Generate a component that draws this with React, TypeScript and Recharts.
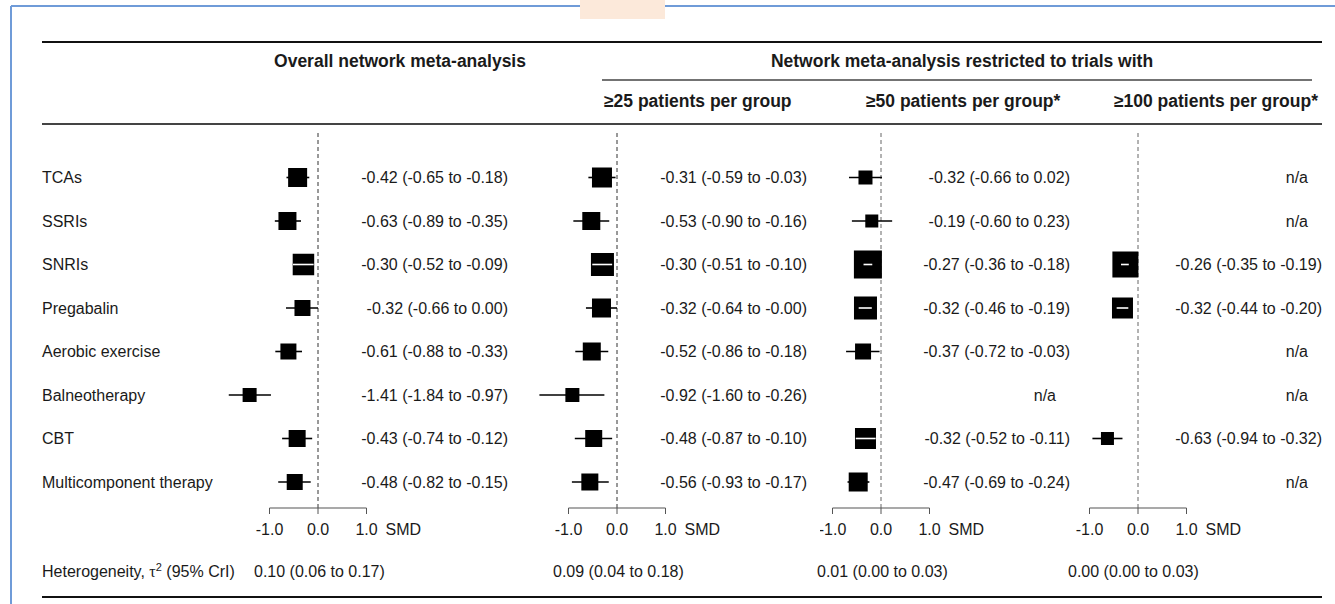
import React from "react";
import { ScatterChart, Scatter, XAxis, YAxis, ReferenceLine, ErrorBar } from "recharts";

// rows, top to bottom
const treatments = [
  "TCAs",
  "SSRIs",
  "SNRIs",
  "Pregabalin",
  "Aerobic exercise",
  "Balneotherapy",
  "CBT",
  "Multicomponent therapy",
];

// overall network meta-analysis (SMD, 95% CrI, box weight)
const overallSmd = [-0.42, -0.63, -0.3, -0.32, -0.61, -1.41, -0.43, -0.48];
const overallLow = [-0.65, -0.89, -0.52, -0.66, -0.88, -1.84, -0.74, -0.82];
const overallHigh = [-0.18, -0.35, -0.09, 0.0, -0.33, -0.97, -0.12, -0.15];
const overallWeight = [19, 18, 21.5, 16, 16, 14, 17, 16];

// trials with >=25 patients per group
const n25Smd = [-0.31, -0.53, -0.3, -0.32, -0.52, -0.92, -0.48, -0.56];
const n25Low = [-0.59, -0.9, -0.51, -0.64, -0.86, -1.6, -0.87, -0.93];
const n25High = [-0.03, -0.16, -0.1, -0, -0.18, -0.26, -0.1, -0.17];
const n25Weight = [20, 18, 23, 19, 18, 14, 17, 17];

// trials with >=50 patients per group (null = n/a)
const n50Smd = [-0.32, -0.19, -0.27, -0.32, -0.37, null, -0.32, -0.47];
const n50Low = [-0.66, -0.6, -0.36, -0.46, -0.72, null, -0.52, -0.69];
const n50High = [0.02, 0.23, -0.18, -0.19, -0.03, null, -0.11, -0.24];
const n50Weight = [14, 13, 28, 23, 16, null, 21, 19];

// trials with >=100 patients per group
const n100Smd = [null, null, -0.26, -0.32, null, null, -0.63, null];
const n100Low = [null, null, -0.35, -0.44, null, null, -0.94, null];
const n100High = [null, null, -0.19, -0.2, null, null, -0.32, null];
const n100Weight = [null, null, 26, 21, null, null, 13, null];

const panelTitles = [
  "≥25 patients per group",
  "≥50 patients per group*",
  "≥100 patients per group*",
];
const tau2 = ["0.10 (0.06 to 0.17)", "0.09 (0.04 to 0.18)", "0.01 (0.00 to 0.03)", "0.00 (0.00 to 0.03)"];
const axisTicks = [-1, 0, 1];

const panelData = [
  { smd: overallSmd, low: overallLow, high: overallHigh, weight: overallWeight },
  { smd: n25Smd, low: n25Low, high: n25High, weight: n25Weight },
  { smd: n50Smd, low: n50Low, high: n50High, weight: n50Weight },
  { smd: n100Smd, low: n100Low, high: n100High, weight: n100Weight },
];

// layout
const W = 1335;
const H = 604;
const PX = 48.5; // px per SMD unit
const ROW0 = 177.5;
const ROW_GAP = 43.5;
const PLOT_TOP = 130;
const AXIS_Y = 508;
const Y_MIN = -(ROW0 - PLOT_TOP) / ROW_GAP;
const Y_MAX = (AXIS_Y - ROW0) / ROW_GAP;
const FONT = "'Liberation Sans', Arial, Helvetica, sans-serif";
const INK = "#1a1a1a";

const frames = [
  { zero: 318, left: 0, plotL: 220, textEnd: 508, tauX: 254, dash: "#333" },
  { zero: 617, left: 520, plotL: 525, textEnd: 807, tauX: 553, dash: "#333" },
  { zero: 881, left: 820, plotL: 825, textEnd: 1070, tauX: 817, dash: "#666" },
  { zero: 1138, left: 1075, plotL: 1080, textEnd: 1322, tauX: 1068, dash: "#666" },
];

const fmt = (v: number) => (Object.is(v, -0) ? "-" : "") + v.toFixed(2);

const Box = (props: any) => {
  const { cx, cy, payload } = props;
  const s = payload.weight;
  return <rect x={cx - s / 2} y={cy - s / 2} width={s} height={s} fill="#000" />;
};
const Empty = () => <g />;

const AxisTick = (props: any) => {
  const { x, y, payload } = props;
  return (
    <g>
      <text x={x} y={y + 19} textAnchor="middle" fontFamily={FONT} fontSize={16} fill={INK}>
        {payload.value.toFixed(1)}
      </text>
      {payload.value === 1 && (
        <text x={x + 19} y={y + 19} textAnchor="start" fontFamily={FONT} fontSize={16} fill={INK}>
          SMD
        </text>
      )}
    </g>
  );
};

function Panel({ idx }: { idx: number }) {
  const f = frames[idx];
  const d = panelData[idx];
  const plotR = f.zero + 55;
  const right = f.textEnd + 6;
  const rows = treatments.map((_, i) => i);
  const pts = rows
    .filter((i) => d.smd[i] != null)
    .map((i) => ({
      row: i,
      smd: d.smd[i] as number,
      low: d.low[i] as number,
      high: d.high[i] as number,
      ci: [(d.smd[i] as number) - (d.low[i] as number), (d.high[i] as number) - (d.smd[i] as number)],
      weight: d.weight[i] as number,
    }));
  // CI fully hidden inside the box -> drawn as a white line on top
  const inner = pts.filter((p) => p.ci[0] * PX <= p.weight / 2 && p.ci[1] * PX <= p.weight / 2);
  const xDomain = [(f.plotL - f.zero) / PX, (plotR - f.zero) / PX];
  const showLabels = idx === 0;

  const estTick = (p: any) => {
    const i = p.payload.value;
    const v = d.smd[i];
    const txt = v == null ? "n/a" : `${fmt(v)} (${fmt(d.low[i] as number)} to ${fmt(d.high[i] as number)})`;
    return (
      <text
        x={f.textEnd - f.left - (v == null ? 14 : 0)}
        y={p.y}
        dy={5.5}
        textAnchor="end"
        fontFamily={FONT}
        fontSize={16}
        fill={INK}
      >
        {txt}
      </text>
    );
  };
  const labelTick = (p: any) => (
    <text x={42} y={p.y} dy={5.5} textAnchor="start" fontFamily={FONT} fontSize={16} fill={INK}>
      {treatments[p.payload.value]}
    </text>
  );

  return (
    <div style={{ position: "absolute", left: f.left, top: 0 }}>
      <ScatterChart
        width={right - f.left}
        height={H}
        margin={{ top: PLOT_TOP, right: 0, bottom: 0, left: showLabels ? 0 : f.plotL - f.left }}
      >
        <XAxis
          type="number"
          dataKey="smd"
          domain={xDomain}
          allowDataOverflow
          ticks={axisTicks}
          interval={0}
          axisLine={false}
          tickLine={{ stroke: "#555" }}
          tickSize={6}
          height={H - AXIS_Y}
          tick={AxisTick}
        />
        {showLabels && (
          <YAxis
            yAxisId="l"
            orientation="left"
            type="number"
            dataKey="row"
            width={f.plotL - f.left}
            domain={[Y_MIN, Y_MAX]}
            reversed
            allowDataOverflow
            ticks={rows}
            interval={0}
            axisLine={false}
            tickLine={false}
            tick={labelTick}
          />
        )}
        <YAxis
          yAxisId="r"
          orientation="right"
          type="number"
          dataKey="row"
          width={right - plotR}
          domain={[Y_MIN, Y_MAX]}
          reversed
          allowDataOverflow
          ticks={rows}
          interval={0}
          axisLine={false}
          tickLine={false}
          tick={estTick}
        />
        <ReferenceLine yAxisId="r" x={0} stroke={f.dash} strokeDasharray="4 3" strokeWidth={1} />
        <ReferenceLine
          yAxisId="r"
          segment={[
            { x: -1, y: Y_MAX },
            { x: 1, y: Y_MAX },
          ]}
          stroke="#555"
          strokeWidth={1.2}
          ifOverflow="visible"
        />
        <Scatter yAxisId="r" data={pts} shape={Box} isAnimationActive={false}>
          <ErrorBar dataKey="ci" direction="x" width={0} stroke="#000" strokeWidth={1.6} isAnimationActive={false} />
        </Scatter>
        {inner.map((p) => (
          <Scatter
            key={`w${p.row}`}
            yAxisId="r"
            data={[
              { smd: p.low, row: p.row },
              { smd: p.high, row: p.row },
            ]}
            shape={Empty}
            line={{ stroke: "#fff", strokeWidth: 1.6 }}
            isAnimationActive={false}
          />
        ))}
      </ScatterChart>
    </div>
  );
}

export default function App() {
  const hdr = { fontFamily: FONT, fontSize: 17.5, fontWeight: 700, fill: INK } as const;
  const body = { fontFamily: FONT, fontSize: 16, fill: INK } as const;
  return (
    <div style={{ position: "absolute", left: 0, top: 0, width: W, height: H, background: "#fff", overflow: "hidden" }}>
      {frames.map((_, i) => (
        <Panel key={i} idx={i} />
      ))}
      <svg width={W} height={H} style={{ position: "absolute", left: 0, top: 0, pointerEvents: "none" }}>
        <line x1={11} y1={6} x2={W} y2={6} stroke="#6f9bd8" strokeWidth={2} />
        <line x1={11} y1={6} x2={11} y2={H} stroke="#6f9bd8" strokeWidth={2} />
        <rect x={580} y={0} width={85} height={19} fill="#fce9da" />

        <line x1={42} y1={42} x2={1322} y2={42} stroke="#111" strokeWidth={2} />
        <line x1={602} y1={80} x2={1312} y2={80} stroke="#444" strokeWidth={1.5} />
        <line x1={42} y1={124} x2={1322} y2={124} stroke="#444" strokeWidth={2} />
        <line x1={42} y1={597} x2={1322} y2={597} stroke="#111" strokeWidth={2} />

        <text x={400} y={67} textAnchor="middle" {...hdr}>
          Overall network meta-analysis
        </text>
        <text x={962} y={67} textAnchor="middle" {...hdr}>
          Network meta-analysis restricted to trials with
        </text>
        <text x={604} y={107} textAnchor="start" {...hdr}>
          {panelTitles[0]}
        </text>
        <text x={866} y={107} textAnchor="start" {...hdr}>
          {panelTitles[1]}
        </text>
        <text x={1318} y={107} textAnchor="end" {...hdr}>
          {panelTitles[2]}
        </text>

        <text x={42} y={577} {...body}>
          Heterogeneity,{" "}
          <tspan fontFamily="'Liberation Serif', 'DejaVu Serif', serif">τ</tspan>
          <tspan dy={-6} fontSize={11}>
            2
          </tspan>
          <tspan dy={6}> (95% CrI)</tspan>
        </text>
        {frames.map((f, i) => (
          <text key={i} x={f.tauX} y={577} {...body}>
            {tau2[i]}
          </text>
        ))}
      </svg>
    </div>
  );
}
